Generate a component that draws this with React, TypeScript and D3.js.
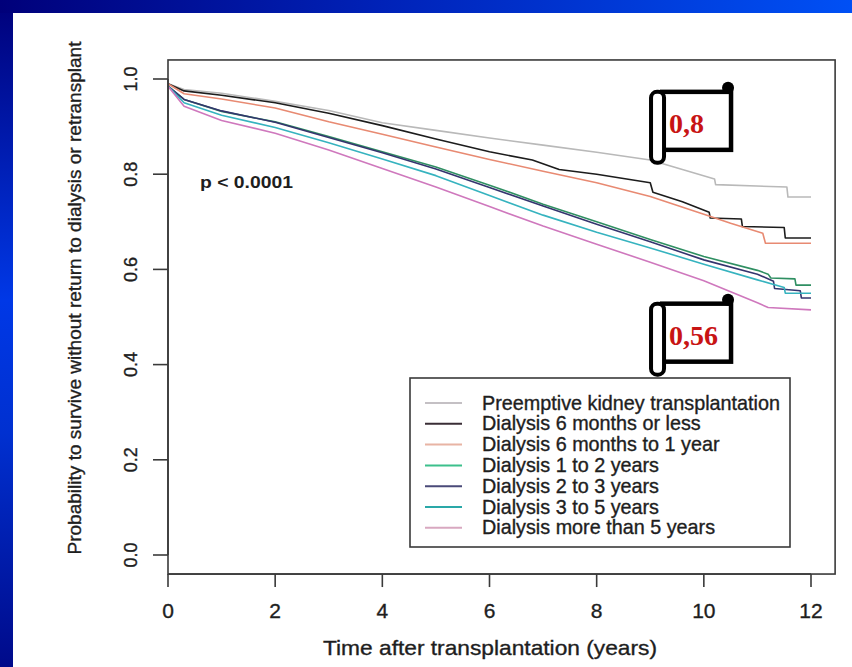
import React from 'react';
import * as d3 from 'd3';

const W = 852;
const H = 667;

// ---- data (time in years, survival probability) ----
const seriesNames = [
  'Preemptive kidney transplantation',
  'Dialysis 6 months or less',
  'Dialysis 6 months to 1 year',
  'Dialysis 1 to 2 years',
  'Dialysis 2 to 3 years',
  'Dialysis 3 to 5 years',
  'Dialysis more than 5 years',
];
const seriesColors = ['#b9b9b9', '#1c1c1c', '#e88a72', '#2f8f62', '#34346e', '#36b3bf', '#cf78bd'];
const legendColors = ['#c4c0c4', '#3a2e36', '#e8b4a4', '#3cc08c', '#4a4a78', '#2aa8a8', '#d8a8c0'];

const preemptive: [number, number][] = [
  [0, 0.99], [0.3, 0.978], [1, 0.97], [2, 0.953], [3, 0.934], [4, 0.908], [5, 0.892], [6, 0.876],
  [7, 0.861], [8, 0.846], [9, 0.83], [9.6, 0.81], [10.2, 0.79], [10.22, 0.778], [11.55, 0.773], [11.57, 0.752], [12, 0.752],
];
const dial6m: [number, number][] = [
  [0, 0.99], [0.3, 0.975], [1, 0.966], [2, 0.95], [3, 0.928], [4, 0.902], [5, 0.874], [6, 0.847],
  [6.8, 0.83], [7.3, 0.81], [8, 0.8], [9, 0.782], [9.05, 0.762], [9.6, 0.742], [10.1, 0.72], [10.12, 0.708],
  [10.7, 0.706], [10.72, 0.69], [11.5, 0.688], [11.52, 0.666], [12, 0.666],
];
const dial6m1y: [number, number][] = [
  [0, 0.99], [0.3, 0.969], [1, 0.958], [2, 0.939], [3, 0.91], [4, 0.884], [5, 0.857], [6, 0.831],
  [7, 0.806], [8, 0.782], [9, 0.753], [10, 0.716], [10.5, 0.697], [11.1, 0.676], [11.15, 0.655], [12, 0.655],
];
const dial1to2: [number, number][] = [
  [0, 0.985], [0.3, 0.957], [1, 0.932], [2, 0.91], [3, 0.879], [4, 0.847], [5, 0.815], [6, 0.777],
  [7, 0.737], [8, 0.7], [9, 0.663], [10, 0.627], [11, 0.598], [11.2, 0.59], [11.25, 0.582], [11.7, 0.58],
  [11.72, 0.567], [12, 0.567],
];
const dial2to3: [number, number][] = [
  [0, 0.985], [0.3, 0.957], [1, 0.933], [2, 0.909], [3, 0.877], [4, 0.845], [5, 0.811], [6, 0.772],
  [7, 0.733], [8, 0.695], [9, 0.658], [10, 0.62], [11, 0.59], [11.3, 0.575], [11.32, 0.56], [11.8, 0.555],
  [11.82, 0.54], [12, 0.54],
];
const dial3to5: [number, number][] = [
  [0, 0.985], [0.3, 0.95], [1, 0.924], [2, 0.898], [3, 0.866], [4, 0.832], [5, 0.797], [6, 0.755],
  [7, 0.714], [8, 0.678], [9, 0.645], [10, 0.611], [11, 0.578], [11.5, 0.562], [11.52, 0.55], [12, 0.55],
];
const dialOver5: [number, number][] = [
  [0, 0.985], [0.3, 0.943], [1, 0.913], [2, 0.886], [3, 0.851], [4, 0.812], [5, 0.773], [6, 0.732],
  [7, 0.691], [8, 0.653], [9, 0.615], [10, 0.576], [11, 0.53], [11.2, 0.52], [12, 0.515],
];
const allSeries = [preemptive, dial6m, dial6m1y, dial1to2, dial2to3, dial3to5, dialOver5];

const xTicks = [0, 2, 4, 6, 8, 10, 12];
const yTicks = [0, 0.2, 0.4, 0.6, 0.8, 1.0];
const calloutLabels = ['0,8', '0,56'];
const calloutAnchors: [number, number][] = [[9.22, 0.973], [9.22, 0.528]]; // top-left of callout box in data coords

const xTitle = 'Time after transplantation (years)';
const yTitle = 'Probability to survive without return to dialysis or retransplant';
const pText = 'p < 0.0001';

export default function App() {
  const x = d3.scaleLinear().domain([0, 12]).range([168, 811]);
  const y = d3.scaleLinear().domain([0, 1]).range([555, 79]);
  const boxL = x(0);
  const boxR = x(12.45);
  const boxT = y(1.04);
  const boxB = y(-0.04);
  const line = d3.line<[number, number]>().x(d => x(d[0])).y(d => y(d[1]));
  const textCol = '#1e1e1e';
  const axisCol = '#3a3a3a';
  const heavy = { stroke: textCol, strokeWidth: 0.35 };

  const legX = 410, legY = 378, legW = 380, legH = 169;
  const rowH = 20.8;

  return (
    <svg width={W} height={H} style={{ position: 'absolute', left: 0, top: 0, display: 'block' }}
      fontFamily="'Liberation Sans', Arial, sans-serif">
      <defs>
        <linearGradient id="gTop" x1="0" y1="0" x2="1" y2="0">
          <stop offset="0" stopColor="#00007a" />
          <stop offset="0.45" stopColor="#0022b8" />
          <stop offset="1" stopColor="#0050f5" />
        </linearGradient>
        <linearGradient id="gLeft" x1="0" y1="0" x2="0" y2="1">
          <stop offset="0" stopColor="#00007a" />
          <stop offset="0.45" stopColor="#0038e6" />
          <stop offset="0.65" stopColor="#0030d0" />
          <stop offset="1" stopColor="#000a8a" />
        </linearGradient>
      </defs>
      <rect x={0} y={0} width={W} height={H} fill="url(#gLeft)" />
      <rect x={0} y={0} width={W} height={13} fill="url(#gTop)" />
      <rect x={13} y={13} width={W - 13} height={H - 13} fill="#ffffff" />

      {/* curves */}
      {allSeries.map((s, i) => (
        <path key={i} d={line(s) || ''} fill="none" stroke={seriesColors[i]} strokeWidth={1.6} strokeLinejoin="round" />
      ))}

      {/* box */}
      <rect x={boxL} y={boxT} width={boxR - boxL} height={boxB - boxT} fill="none" stroke={axisCol} strokeWidth={1.6} />

      {/* x axis */}
      <line x1={x(0)} x2={x(12)} y1={boxB} y2={boxB} stroke={axisCol} strokeWidth={1.6} />
      {xTicks.map(t => (
        <g key={t}>
          <line x1={x(t)} x2={x(t)} y1={boxB} y2={boxB + 13} stroke={axisCol} strokeWidth={1.6} />
          <text x={x(t)} y={618} textAnchor="middle" fontSize={21} fill={textCol} {...heavy}>{t}</text>
        </g>
      ))}
      <text x={490} y={655} textAnchor="middle" fontSize={21} fill={textCol} {...heavy} textLength={334} lengthAdjust="spacingAndGlyphs">{xTitle}</text>

      {/* y axis */}
      <line x1={boxL} x2={boxL} y1={y(0)} y2={y(1)} stroke={axisCol} strokeWidth={1.6} />
      {yTicks.map(v => (
        <g key={v}>
          <line x1={boxL - 15} x2={boxL} y1={y(v)} y2={y(v)} stroke={axisCol} strokeWidth={1.6} />
          <text transform={`translate(137,${y(v)}) rotate(-90)`} textAnchor="middle" fontSize={18} fill={textCol} {...heavy}>{d3.format('.1f')(v)}</text>
        </g>
      ))}
      <text transform={`translate(81,298) rotate(-90)`} textAnchor="middle" fontSize={19} fill={textCol} {...heavy} textLength={513} lengthAdjust="spacingAndGlyphs">{yTitle}</text>

      {/* p value */}
      <text x={200} y={188} fontSize={17} fontWeight="bold" fill={textCol} textLength={93} lengthAdjust="spacingAndGlyphs">{pText}</text>

      {/* legend */}
      <rect x={legX} y={legY} width={legW} height={legH} fill="#ffffff" stroke={axisCol} strokeWidth={1.6} />
      {seriesNames.map((n, i) => {
        const cy = 403 + i * rowH;
        return (
          <g key={n}>
            <line x1={425} x2={462} y1={cy} y2={cy} stroke={legendColors[i]} strokeWidth={2} />
            <text x={482} y={cy + 6.5} fontSize={19.8} fill={textCol} {...heavy}>{n}</text>
          </g>
        );
      })}

      {/* callouts */}
      {calloutLabels.map((lab, i) => {
        const bx = x(calloutAnchors[i][0]);
        const by = y(calloutAnchors[i][1]);
        const bw = 69, bh = 58;
        return (
          <g key={lab}>
            <rect x={bx} y={by} width={bw} height={bh} fill="#ffffff" stroke="#000" strokeWidth={4.5} />
            <rect x={bx - 11} y={by} width={13} height={bh + 13} rx={6} fill="#ffffff" stroke="#000" strokeWidth={4} />
            <circle cx={bx + bw - 3} cy={by - 4} r={6} fill="#000" />
            <text x={bx + 7} y={by + 41} fontSize={28} fontWeight="bold" fontFamily="'Liberation Serif', 'Times New Roman', serif" fill="#c81414">{lab}</text>
          </g>
        );
      })}
    </svg>
  );
}
